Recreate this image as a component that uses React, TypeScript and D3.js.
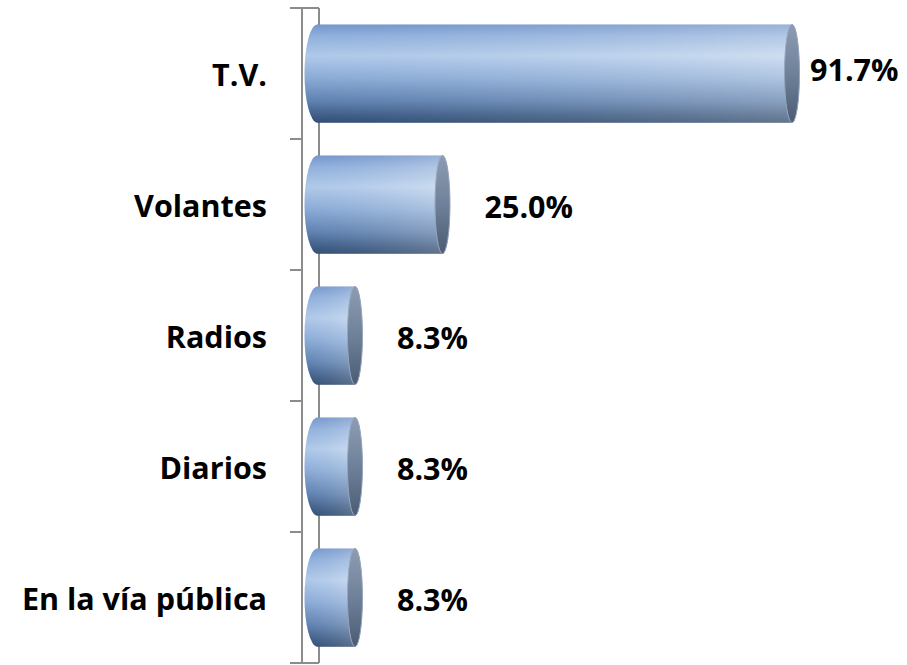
import * as d3 from "d3";

const categories = ["T.V.", "Volantes", "Radios", "Diarios", "En la vía pública"];
const values = [91.7, 25.0, 8.3, 8.3, 8.3];
const valueLabels = ["91.7%", "25.0%", "8.3%", "8.3%", "8.3%"];

const width = 907,
    height = 665;

// wall / axis geometry
const axisX = 302;
const wallBackX = 319;
const tickLen = 12;

const font = "'Open Sans', 'DejaVu Sans', sans-serif";
const fontSize = 30.5;

export default function App() {
    const y = d3.scaleBand<string>().domain(categories).range([8, 663]).paddingInner(0);
    const x = d3.scaleLinear().domain([0, 100]).range([311.5, 835.5]);

    const band = y.bandwidth();
    const barH = band * 0.75;
    const rxBack = 13; // left (back) end of cylinder
    const rxCap = 7.5; // right (front) face
    const ticks = d3.range(categories.length + 1).map((i) => 8 + i * band);

    return (
        <svg width={width} height={height} style={{ position: "absolute", left: 0, top: 0, background: "#fff" }}>
            <defs>
                <linearGradient id="body" x1="0" y1="0" x2="0" y2="1">
                    <stop offset="0" stopColor="#7b9acb" />
                    <stop offset="0.12" stopColor="#9fbae0" />
                    <stop offset="0.32" stopColor="#c6d9f0" />
                    <stop offset="0.55" stopColor="#98b4d9" />
                    <stop offset="0.78" stopColor="#6482ab" />
                    <stop offset="0.93" stopColor="#3a5477" />
                    <stop offset="1" stopColor="#2c4362" />
                </linearGradient>
                <linearGradient id="fade" x1="0" y1="0" x2="1" y2="0">
                    <stop offset="0" stopColor="#4a7fc8" stopOpacity="0.18" />
                    <stop offset="1" stopColor="#e6ecf3" stopOpacity="0.3" />
                </linearGradient>
                <linearGradient id="cap" x1="0" y1="0" x2="0" y2="1">
                    <stop offset="0" stopColor="#8d9cb2" />
                    <stop offset="0.5" stopColor="#6f819a" />
                    <stop offset="1" stopColor="#4a5b73" />
                </linearGradient>
            </defs>

            {/* 3D wall outline */}
            <g stroke="#8c8c8c" strokeWidth={2} fill="none">
                <line x1={axisX} y1={ticks[0]} x2={axisX} y2={ticks[ticks.length - 1]} />
                <line x1={wallBackX} y1={ticks[0]} x2={wallBackX} y2={ticks[ticks.length - 1]} />
                <line x1={axisX} y1={ticks[0]} x2={wallBackX} y2={ticks[0]} />
                <line x1={axisX} y1={ticks[ticks.length - 1]} x2={wallBackX} y2={ticks[ticks.length - 1]} />
                {ticks.map((t, i) => (
                    <line key={i} x1={axisX - tickLen} y1={t} x2={axisX} y2={t} />
                ))}
            </g>

            {categories.map((c, i) => {
                const cy = (y(c) as number) + band / 2;
                const top = cy - barH / 2;
                const bot = cy + barH / 2;
                const xl = x(0) + 6;
                const xr = x(values[i]);
                const d = `M${xl},${top} L${xr},${top} A${rxCap},${barH / 2} 0 0 1 ${xr},${bot} L${xl},${bot} A${rxBack},${barH / 2} 0 0 1 ${xl},${top} Z`;
                return (
                    <g key={c}>
                        <path d={d} fill="url(#body)" />
                        <path d={d} fill="url(#fade)" />
                        <ellipse cx={xr} cy={cy} rx={rxCap} ry={barH / 2} fill="url(#cap)" stroke="#97a6ba" strokeWidth={1} />
                    </g>
                );
            })}

            <g fontFamily={font} fontWeight="bold" fontSize={fontSize} fill="#000">
                {categories.map((c) => (
                    <text key={c} x={axisX - 35} y={(y(c) as number) + band / 2 + 12} textAnchor="end">
                        {c}
                    </text>
                ))}
                {values.map((v, i) => {
                    const cy = (y(categories[i]) as number) + band / 2;
                    // labels that would run off the right edge are pulled in and nudged up
                    const overflow = x(v) + 42 + 90 > width;
                    const lx = overflow ? x(v) + 18 : x(v) + 42;
                    const ly = overflow ? cy + 7 : cy + 13;
                    return (
                        <text key={i} x={lx} y={ly}>
                            {valueLabels[i]}
                        </text>
                    );
                })}
            </g>
        </svg>
    );
}
